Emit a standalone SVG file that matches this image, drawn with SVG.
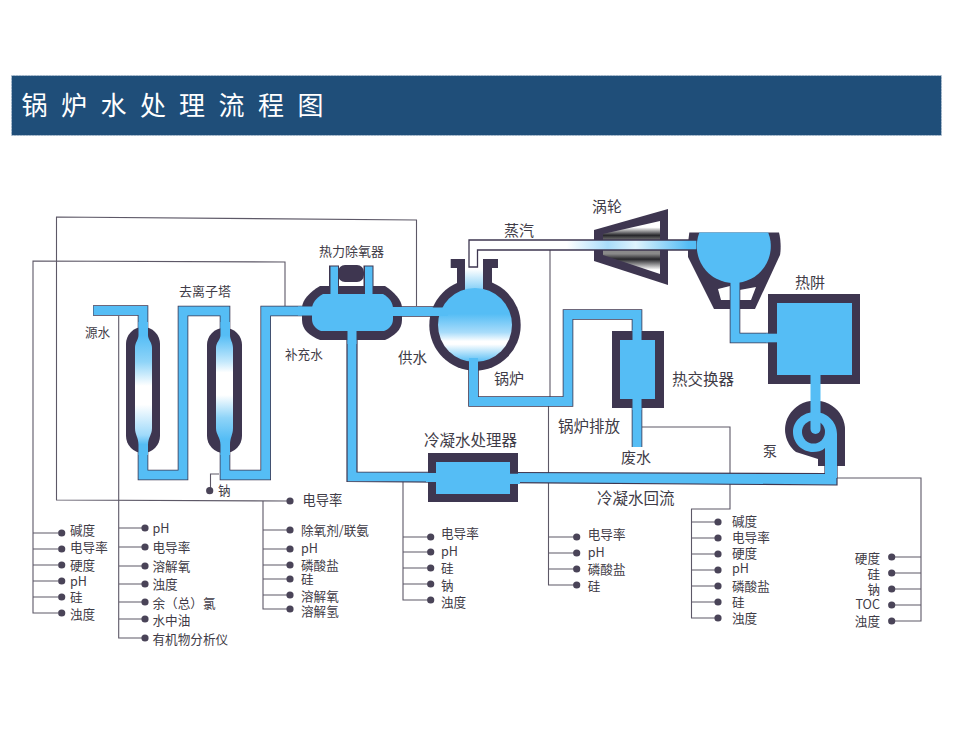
<svg xmlns="http://www.w3.org/2000/svg" width="962" height="733" viewBox="0 0 962 733">
<style>
text{font-family:"Noto Sans CJK SC","Liberation Sans",sans-serif;fill:#3f3c47;dominant-baseline:central;font-size:12.6px;transform:translateY(-1px)}
.m{font-size:15px}
.l{font-size:15.5px}
.e{text-anchor:end}
.t{fill:#fff;font-size:26px;font-weight:400;transform:translateY(-2px)}
.w{fill:none;stroke:#5d5867;stroke-width:1.1}
.po{fill:none;stroke:#3e3650;stroke-width:10.6}
.pi{fill:none;stroke:#55bdf5;stroke-width:9}
.d{fill:#3e3650}
.b{fill:#55bdf5}
.s{fill:#4a4458}
</style>
<defs>
<linearGradient id="c1" x1="0" y1="0" x2="0" y2="1"><stop offset="0.1" stop-color="#55bdf5"/><stop offset="0.3" stop-color="#8fd4f8"/><stop offset="0.48" stop-color="#fff"/><stop offset="0.62" stop-color="#fff"/><stop offset="0.85" stop-color="#a0dafa"/><stop offset="0.92" stop-color="#55bdf5"/></linearGradient>
<linearGradient id="c2" x1="0" y1="0" x2="0" y2="1"><stop offset="0.1" stop-color="#55bdf5"/><stop offset="0.3" stop-color="#c5e9fc"/><stop offset="0.38" stop-color="#fff"/><stop offset="0.55" stop-color="#fff"/><stop offset="0.72" stop-color="#8fd4f8"/><stop offset="0.88" stop-color="#55bdf5"/></linearGradient>
<linearGradient id="sph" x1="0" y1="0" x2="0" y2="1"><stop offset="0.35" stop-color="#55bdf5"/><stop offset="0.6" stop-color="#a8dcfa"/><stop offset="0.72" stop-color="#fff"/><stop offset="0.76" stop-color="#fff"/><stop offset="1" stop-color="#55bdf5"/></linearGradient>
<linearGradient id="neck" x1="0" y1="0" x2="0" y2="1"><stop offset="0.1" stop-color="#fff"/><stop offset="1" stop-color="#6cc6f6"/></linearGradient>
<linearGradient id="steam" gradientUnits="userSpaceOnUse" x1="470" y1="0" x2="700" y2="0"><stop offset="0.42" stop-color="#fff"/><stop offset="0.6" stop-color="#a8dcfa"/><stop offset="0.72" stop-color="#dff3fd"/><stop offset="0.95" stop-color="#55bdf5"/></linearGradient>
<linearGradient id="turb" gradientUnits="userSpaceOnUse" x1="0" y1="221" x2="0" y2="274"><stop offset="0.12" stop-color="#fff"/><stop offset="0.27" stop-color="#26262a"/><stop offset="0.38" stop-color="#8a8a8a"/><stop offset="0.62" stop-color="#8a8a8a"/><stop offset="0.72" stop-color="#26262a"/><stop offset="0.92" stop-color="#fff"/></linearGradient>
</defs>
<rect width="962" height="733" fill="#fff"/>
<g id="title">
<rect x="11.5" y="75.5" width="930" height="60" fill="#1f4e79" stroke="#b5c4d4" stroke-width="1" stroke-dasharray="2 1"/>
<text class="t" y="105.500" x="21.5 61 100.500 140 179 218.500 258 297.500">锅炉水处理流程图</text>
</g>
<g id="connectors">
<path class="w" d="M416.500,306V220L56.500,217V500L287,501"/>
<path class="w" d="M285,306V262L33,261V613H58M33,533H58M33,549H58M33,565H58M33,581H58M33,597H58"/>
<path class="w" d="M118.700,316V638H142M118.700,528H142M118.700,547H142M118.700,566H142M118.700,584H142M118.700,602H142M118.700,619H142"/>
<path class="w" d="M263,501V609H287M263,530H287M263,549H287M263,565H287M263,579H287M263,595H287"/>
<path class="w" d="M403,480V600H428M403,537H428M403,552H428M403,568H428M403,584H428"/>
<path class="w" d="M550,250V400M548.500,404V585H574M548.500,537H574M548.500,553H574M548.500,569H574"/>
<path class="w" d="M641,427H730V509H691.500V618H715M691.500,522H715M691.500,538H715M691.500,554H715M691.500,570H715M691.500,586H715M691.500,602H715"/>
<path class="w" d="M836,478H921V621H895M921,557H895M921,573H895M921,589H895M921,605H895"/>
<path class="w" d="M219,474H210.500V488"/>
<g id="pipes">
<path class="po" d="M93,310.500H143V475H183V311H225V475H265.700V311H312"/>
<path class="pi" d="M93.500,310.500H143V475H183V311H225V475H265.700V311H312"/>
<path class="po" d="M393,311.500H450"/>
<path class="pi" d="M393,311.500H452"/>
<path class="po" d="M473.500,358V401.500H568V314.500H637V345"/>
<path class="pi" d="M473.500,358V401.500H568V314.500H637V345"/>
<path class="po" d="M637,395V447"/>
<path class="pi" d="M637,395V447"/>
<path d="M347,328V481.500L837,485V440H825V473.500L357,472V328Z" class="b" stroke="#3e3650" stroke-width="1.200"/>
</g>
</g>
<g id="column-1">
<rect class="d" x="126" y="327" width="34" height="126" rx="17"/>
<path fill="url(#c1)" d="M138.500,322V335C138.500,340 135,342 135,348V428C135,435 138.500,437 138.500,445V455H148V445C148,437 152,435 152,428V348C152,342 148,340 148,335V322Z"/>
</g>
<g id="column-2">
<rect class="d" x="207" y="328" width="35" height="125" rx="17"/>
<path fill="url(#c2)" d="M220.500,322V335C220.500,340 216,342 216,348V428C216,435 220.500,437 220.500,445V455H230V445C230,437 233,435 233,428V348C233,342 230,340 230,335V322Z"/>
</g>
<g id="deaerator">
<path class="d" d="M320,286H385C394,292 402,300 402,308V320C402,330 394,336 385,340H320C310,336 302,330 302,320V308C302,300 310,292 320,286Z"/>
<rect class="d" x="338" y="265" width="26" height="17" rx="7"/>
<rect x="329" y="265.500" width="10" height="30" class="d"/>
<rect x="363.500" y="265.500" width="10" height="30" class="d"/>
<path class="b" d="M323,294H383C390,298 393,303 393,309V319C393,325 389,329 384,331H321C316,329 312,325 312,319V309C312,303 316,298 323,294Z"/>
<rect class="b" x="330.500" y="266.500" width="7.500" height="30"/>
<rect class="b" x="365" y="266.500" width="7.500" height="30"/>
<rect class="b" x="347.500" y="328" width="9" height="16"/>
<rect class="b" x="298" y="306.500" width="16" height="9"/>
<rect class="b" x="391" y="307" width="15" height="9"/>
<text x="351.500" y="251" text-anchor="middle" style="font-size:13px">热力除氧器</text>
</g>
<g id="boiler">
<circle class="d" cx="475" cy="325" r="45.700"/>
<path class="d" d="M450.700,259H465V268H465V295H457V268H450.700ZM483,259H498V268H492V295H483Z"/>
<rect fill="url(#neck)" x="465" y="266" width="18" height="28"/>
<circle fill="url(#sph)" cx="475" cy="325" r="37"/>
<rect class="b" x="428" y="307.500" width="20" height="8.500"/>
<rect class="b" x="469" y="358" width="9" height="14"/>
</g>
<g id="turbine">
<path class="d" d="M594,230L668,209V285L594,261Z"/>
<path fill="url(#turb)" d="M603,234L660,221V274L603,255Z"/>
</g>
<g id="condenser">
<path class="d" d="M689.300,232.500H779C781,240 781,250 780,255L755,309H714L688,257C688,250 688,240 689.300,232.500Z"/>
<path d="M718,289L730,286V300H721ZM756,287L751,300H739.500V290Z" fill="#fff"/>
<path class="po" d="M735,280V338H780"/>
<path class="pi" d="M735,280V338H780"/>
<path d="M469,267V240H697V250H477.500V267Z" fill="url(#steam)" stroke="#3e3650" stroke-width="1.300"/>
<path class="b" d="M699.400,232.500H768.200A37,37 0 1 1 699.400,232.500Z"/>
</g>
<g id="hotwell">
<rect class="d" x="768" y="294" width="92" height="90"/>
<rect class="b" x="777" y="303" width="75" height="72"/>
<rect class="b" x="766" y="333.700" width="13" height="8.600"/>
</g>
<g id="pump">
<path class="d" d="M845,466V431A30,29 0 1 0 796,452L818,459V466Z"/>
<path class="b" d="M837,478V434C837,421 826,412 815,412C803,412 793,421 793,432C793,443 802,452 813,452C817,452 822,451 825,448V478Z"/>
<circle class="d" cx="813.500" cy="432" r="11.500"/>
<path class="b" d="M810.500,370H820.500V429A5,5 0 0 1 810.500,429Z"/>
</g>
<g id="heat-exchanger">
<rect class="d" x="612" y="331" width="52" height="77"/>
<rect class="b" x="620" y="340" width="35" height="59"/>
<rect class="b" x="632.500" y="330" width="9" height="12"/>
<rect class="b" x="632.500" y="398" width="9" height="12"/>
</g>
<g id="condensate-treater">
<rect class="d" x="428" y="453" width="90" height="49"/>
<rect class="b" x="436" y="462" width="74" height="32"/>
<path class="b" d="M426,473H438V482H426ZM508,473.800H520V484H508Z"/>
</g>
<g id="process-labels">
<text x="85" y="332">源水</text>
<text x="179" y="291" style="font-size:13px">去离子塔</text>
<text x="285" y="354">补充水</text>
<text x="398" y="357" style="font-size:14.500px">供水</text>
<text class="m" x="592" y="206">涡轮</text>
<text class="m" x="504" y="230">蒸汽</text>
<text class="m" x="795" y="282">热阱</text>
<text class="m" x="494" y="378">锅炉</text>
<text class="l" x="672" y="379">热交换器</text>
<text class="l" x="558" y="426">锅炉排放</text>
<text class="m" x="621" y="457">废水</text>
<text x="763" y="451" style="font-size:14px">泵</text>
<text class="l" x="424" y="440">冷凝水处理器</text>
<text class="l" x="597" y="498">冷凝水回流</text>
</g>
<g id="sensor-sodium"><circle class="s" cx="209.700" cy="490.700" r="3.600"/><text x="218" y="490">钠</text></g>
<g id="sensor-conductivity"><circle class="s" cx="290" cy="501" r="3.600"/><text x="302.500" y="500" style="font-size:13.300px">电导率</text></g>
<g id="sensors-1">
<circle class="s" cx="61.700" cy="533" r="3.600"/><circle class="s" cx="61.700" cy="549" r="3.600"/><circle class="s" cx="61.700" cy="565" r="3.600"/><circle class="s" cx="61.700" cy="581" r="3.600"/><circle class="s" cx="61.700" cy="597" r="3.600"/><circle class="s" cx="61.700" cy="613" r="3.600"/>
<text x="70" y="530">碱度</text><text x="70" y="547">电导率</text><text x="70" y="565">硬度</text><text x="70" y="581">pH</text><text x="70" y="597">硅</text><text x="70" y="614">浊度</text>
</g>
<g id="sensors-2">
<circle class="s" cx="145" cy="528" r="3.600"/><circle class="s" cx="145" cy="547" r="3.600"/><circle class="s" cx="145" cy="566" r="3.600"/><circle class="s" cx="145" cy="584" r="3.600"/><circle class="s" cx="145" cy="602" r="3.600"/><circle class="s" cx="145" cy="619" r="3.600"/><circle class="s" cx="145" cy="638" r="3.600"/>
<text x="152.500" y="528">pH</text><text x="152.500" y="547">电导率</text><text x="152.500" y="566">溶解氧</text><text x="152.500" y="584">浊度</text><text x="152.500" y="603">余（总）氯</text><text x="152.500" y="620">水中油</text><text x="152.500" y="639">有机物分析仪</text>
</g>
<g id="sensors-3">
<circle class="s" cx="290" cy="530" r="3.600"/><circle class="s" cx="290" cy="549" r="3.600"/><circle class="s" cx="290" cy="565" r="3.600"/><circle class="s" cx="290" cy="579" r="3.600"/><circle class="s" cx="290" cy="595" r="3.600"/><circle class="s" cx="290" cy="609" r="3.600"/>
<text x="301" y="530">除氧剂/联氨</text><text x="301" y="548">pH</text><text x="301" y="565">磷酸盐</text><text x="301" y="579">硅</text><text x="301" y="596">溶解氧</text><text x="301" y="611">溶解氢</text>
</g>
<g id="sensors-4">
<circle class="s" cx="430.700" cy="537" r="3.600"/><circle class="s" cx="430.700" cy="552" r="3.600"/><circle class="s" cx="430.700" cy="568" r="3.600"/><circle class="s" cx="430.700" cy="584" r="3.600"/><circle class="s" cx="430.700" cy="600" r="3.600"/>
<text x="441" y="533">电导率</text><text x="441" y="551">pH</text><text x="441" y="568">硅</text><text x="441" y="585">钠</text><text x="441" y="602">浊度</text>
</g>
<g id="sensors-5">
<circle class="s" cx="576.700" cy="537" r="3.600"/><circle class="s" cx="576.700" cy="553" r="3.600"/><circle class="s" cx="576.700" cy="569" r="3.600"/><circle class="s" cx="576.700" cy="585" r="3.600"/>
<text x="587.700" y="534">电导率</text><text x="587.700" y="552">pH</text><text x="587.700" y="569">磷酸盐</text><text x="587.700" y="586">硅</text>
</g>
<g id="sensors-6">
<circle class="s" cx="718" cy="522" r="3.600"/><circle class="s" cx="718" cy="538" r="3.600"/><circle class="s" cx="718" cy="554" r="3.600"/><circle class="s" cx="718" cy="570" r="3.600"/><circle class="s" cx="718" cy="586" r="3.600"/><circle class="s" cx="718" cy="602" r="3.600"/><circle class="s" cx="718" cy="618" r="3.600"/>
<text x="732" y="521">碱度</text><text x="732" y="537">电导率</text><text x="732" y="553">硬度</text><text x="732" y="568">pH</text><text x="732" y="586">磷酸盐</text><text x="732" y="602">硅</text><text x="732" y="618">浊度</text>
</g>
<g id="sensors-7">
<circle class="s" cx="891.700" cy="557" r="3.600"/><circle class="s" cx="891.700" cy="573" r="3.600"/><circle class="s" cx="891.700" cy="589" r="3.600"/><circle class="s" cx="891.700" cy="605" r="3.600"/><circle class="s" cx="891.700" cy="621" r="3.600"/>
<text class="e" x="880" y="558">硬度</text><text class="e" x="880" y="574">硅</text><text class="e" x="880" y="589">钠</text><text class="e" x="880" y="604">TOC</text><text class="e" x="880" y="621">浊度</text>
</g>
</svg>
